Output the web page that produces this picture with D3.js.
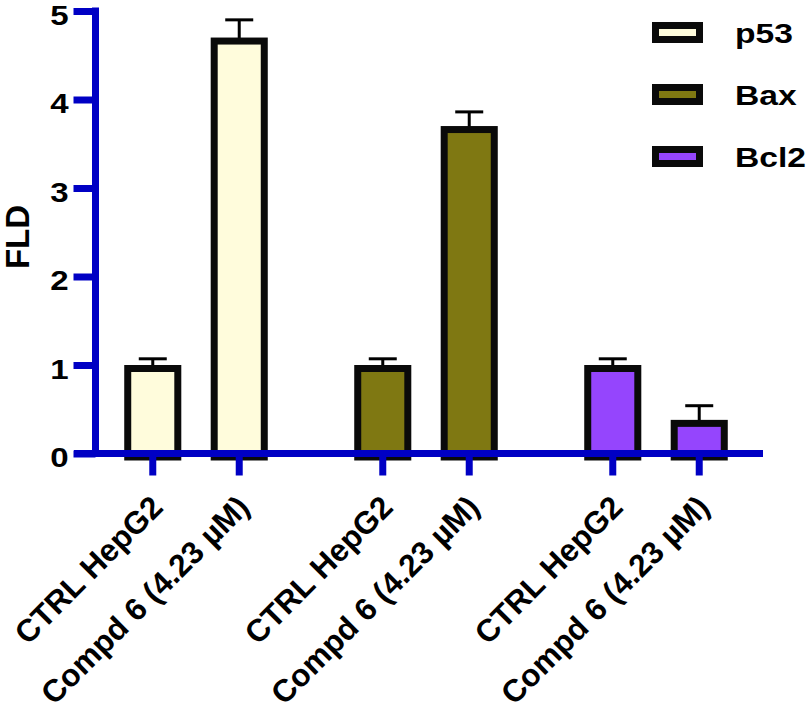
<!DOCTYPE html>
<html>
<head>
<meta charset="utf-8">
<script src="https://cdn.jsdelivr.net/npm/d3@7"></script>
<style>
  body { margin: 0; background: #fff; }
  svg text { font-family: "Liberation Sans", Arial, sans-serif; font-weight: bold; fill: #000; }
</style>
</head>
<body>
<svg width="810" height="711"></svg>
<script>
var genes = ["p53", "Bax", "Bcl2"];
var conditions = ["CTRL HepG2", "Compd 6 (4.23 \u00b5M)"];
var p53_values = [1.0, 4.70];
var p53_errors = [0.07, 0.20];
var bax_values = [1.0, 3.70];
var bax_errors = [0.07, 0.16];
var bcl2_values = [1.0, 0.38];
var bcl2_errors = [0.07, 0.16];
var y_ticks = [0, 1, 2, 3, 4, 5];
var gene_colors = ["#fffcdc", "#7f7812", "#9545fd"];

var chart = (function(){

	var svg = d3.select("svg");
	var axis_color = "#0000c4";

	var values = [p53_values, bax_values, bcl2_values];
	var errors = [p53_errors, bax_errors, bcl2_errors];

	var rows = [];
	genes.forEach(function(g, gi){
		conditions.forEach(function(c, ci){
			rows.push({ gene: g, cond: c, value: values[gi][ci], err: errors[gi][ci], color: gene_colors[gi] });
		});
	});

	var y = d3.scaleLinear().domain([0, 5]).range([453.5, 11]);
	var x_group = d3.scaleBand().domain(genes).range([81, 771]);
	var x_cond = d3.scaleBand().domain(conditions).range([0, x_group.bandwidth()]).paddingOuter(0.33);
	var bar_w = x_cond.bandwidth() * 0.66;

	function cx(d){ return x_group(d.gene) + x_cond(d.cond) + x_cond.bandwidth() / 2; }

	// error bars (drawn under the bars so the stem starts at the bar top)
	var err = svg.append("g").attr("class", "errors");
	err.selectAll("line.stem").data(rows).enter().append("line")
		.attr("x1", cx).attr("x2", cx)
		.attr("y1", function(d){ return y(d.value) + 4; })
		.attr("y2", function(d){ return y(d.value + d.err); })
		.attr("stroke", "#000").attr("stroke-width", 3);
	err.selectAll("line.cap").data(rows).enter().append("line")
		.attr("x1", function(d){ return cx(d) - 14; })
		.attr("x2", function(d){ return cx(d) + 14; })
		.attr("y1", function(d){ return y(d.value + d.err); })
		.attr("y2", function(d){ return y(d.value + d.err); })
		.attr("stroke", "#000").attr("stroke-width", 3);

	// bars, border drawn inside the value
	svg.append("g").selectAll("rect").data(rows).enter().append("rect")
		.attr("x", function(d){ return cx(d) - bar_w / 2 + 3.5; })
		.attr("width", bar_w - 7)
		.attr("y", function(d){ return y(d.value) + 3.5; })
		.attr("height", function(d){ return y(0) - y(d.value); })
		.attr("fill", function(d){ return d.color; })
		.attr("stroke", "#0a0a0a").attr("stroke-width", 7);

	// y axis
	var y_axis = svg.append("g").attr("transform", "translate(95.5,0)")
		.call(d3.axisLeft(y).tickValues(y_ticks).tickFormat(d3.format("d")).tickSize(22).tickPadding(5).tickSizeOuter(0));
	y_axis.select(".domain").attr("stroke", axis_color).attr("stroke-width", 7)
		.attr("d", "M0," + (y(5) - 3.5) + "V" + y(0));
	y_axis.selectAll(".tick line").attr("stroke", axis_color).attr("stroke-width", 7);
	// labels are drawn a bit wider than the font, like the original
	y_axis.selectAll(".tick text")
		.attr("x", null).attr("dy", null)
		.attr("font-size", 28).attr("fill", "#000")
		.attr("transform", "translate(-27,13) scale(1.18,1)");

	// x axis
	var x_axis = svg.append("g");
	x_axis.append("line")
		.attr("x1", 74).attr("x2", 763).attr("y1", y(0)).attr("y2", y(0))
		.attr("stroke", axis_color).attr("stroke-width", 7);
	x_axis.selectAll("line.tick").data(rows).enter().append("line")
		.attr("x1", cx).attr("x2", cx)
		.attr("y1", y(0)).attr("y2", y(0) + 22)
		.attr("stroke", axis_color).attr("stroke-width", 7);
	x_axis.selectAll("text").data(rows).enter().append("text")
		.attr("transform", function(d){ return "translate(" + (cx(d) + 12) + ",509) rotate(-45)"; })
		.attr("text-anchor", "end")
		.attr("font-size", 31.5)
		.text(function(d){ return d.cond; });

	// y title
	svg.append("text")
		.attr("transform", "translate(28.5,237) rotate(-90)")
		.attr("text-anchor", "middle")
		.attr("font-size", 33)
		.text("FLD");

	// legend
	var legend = svg.append("g").selectAll("g").data(genes).enter().append("g")
		.attr("transform", function(d, i){ return "translate(652," + (32.5 + i * 62) + ")"; });
	legend.append("rect")
		.attr("x", 3.5).attr("y", -7).attr("width", 44).attr("height", 14)
		.attr("fill", function(d, i){ return gene_colors[i]; })
		.attr("stroke", "#0a0a0a").attr("stroke-width", 7);
	legend.append("text")
		.attr("transform", "translate(83,10) scale(1.2,1)")
		.attr("font-size", 28)
		.text(function(d){ return d; });

	return null;
})();
</script>
</body>
</html>
